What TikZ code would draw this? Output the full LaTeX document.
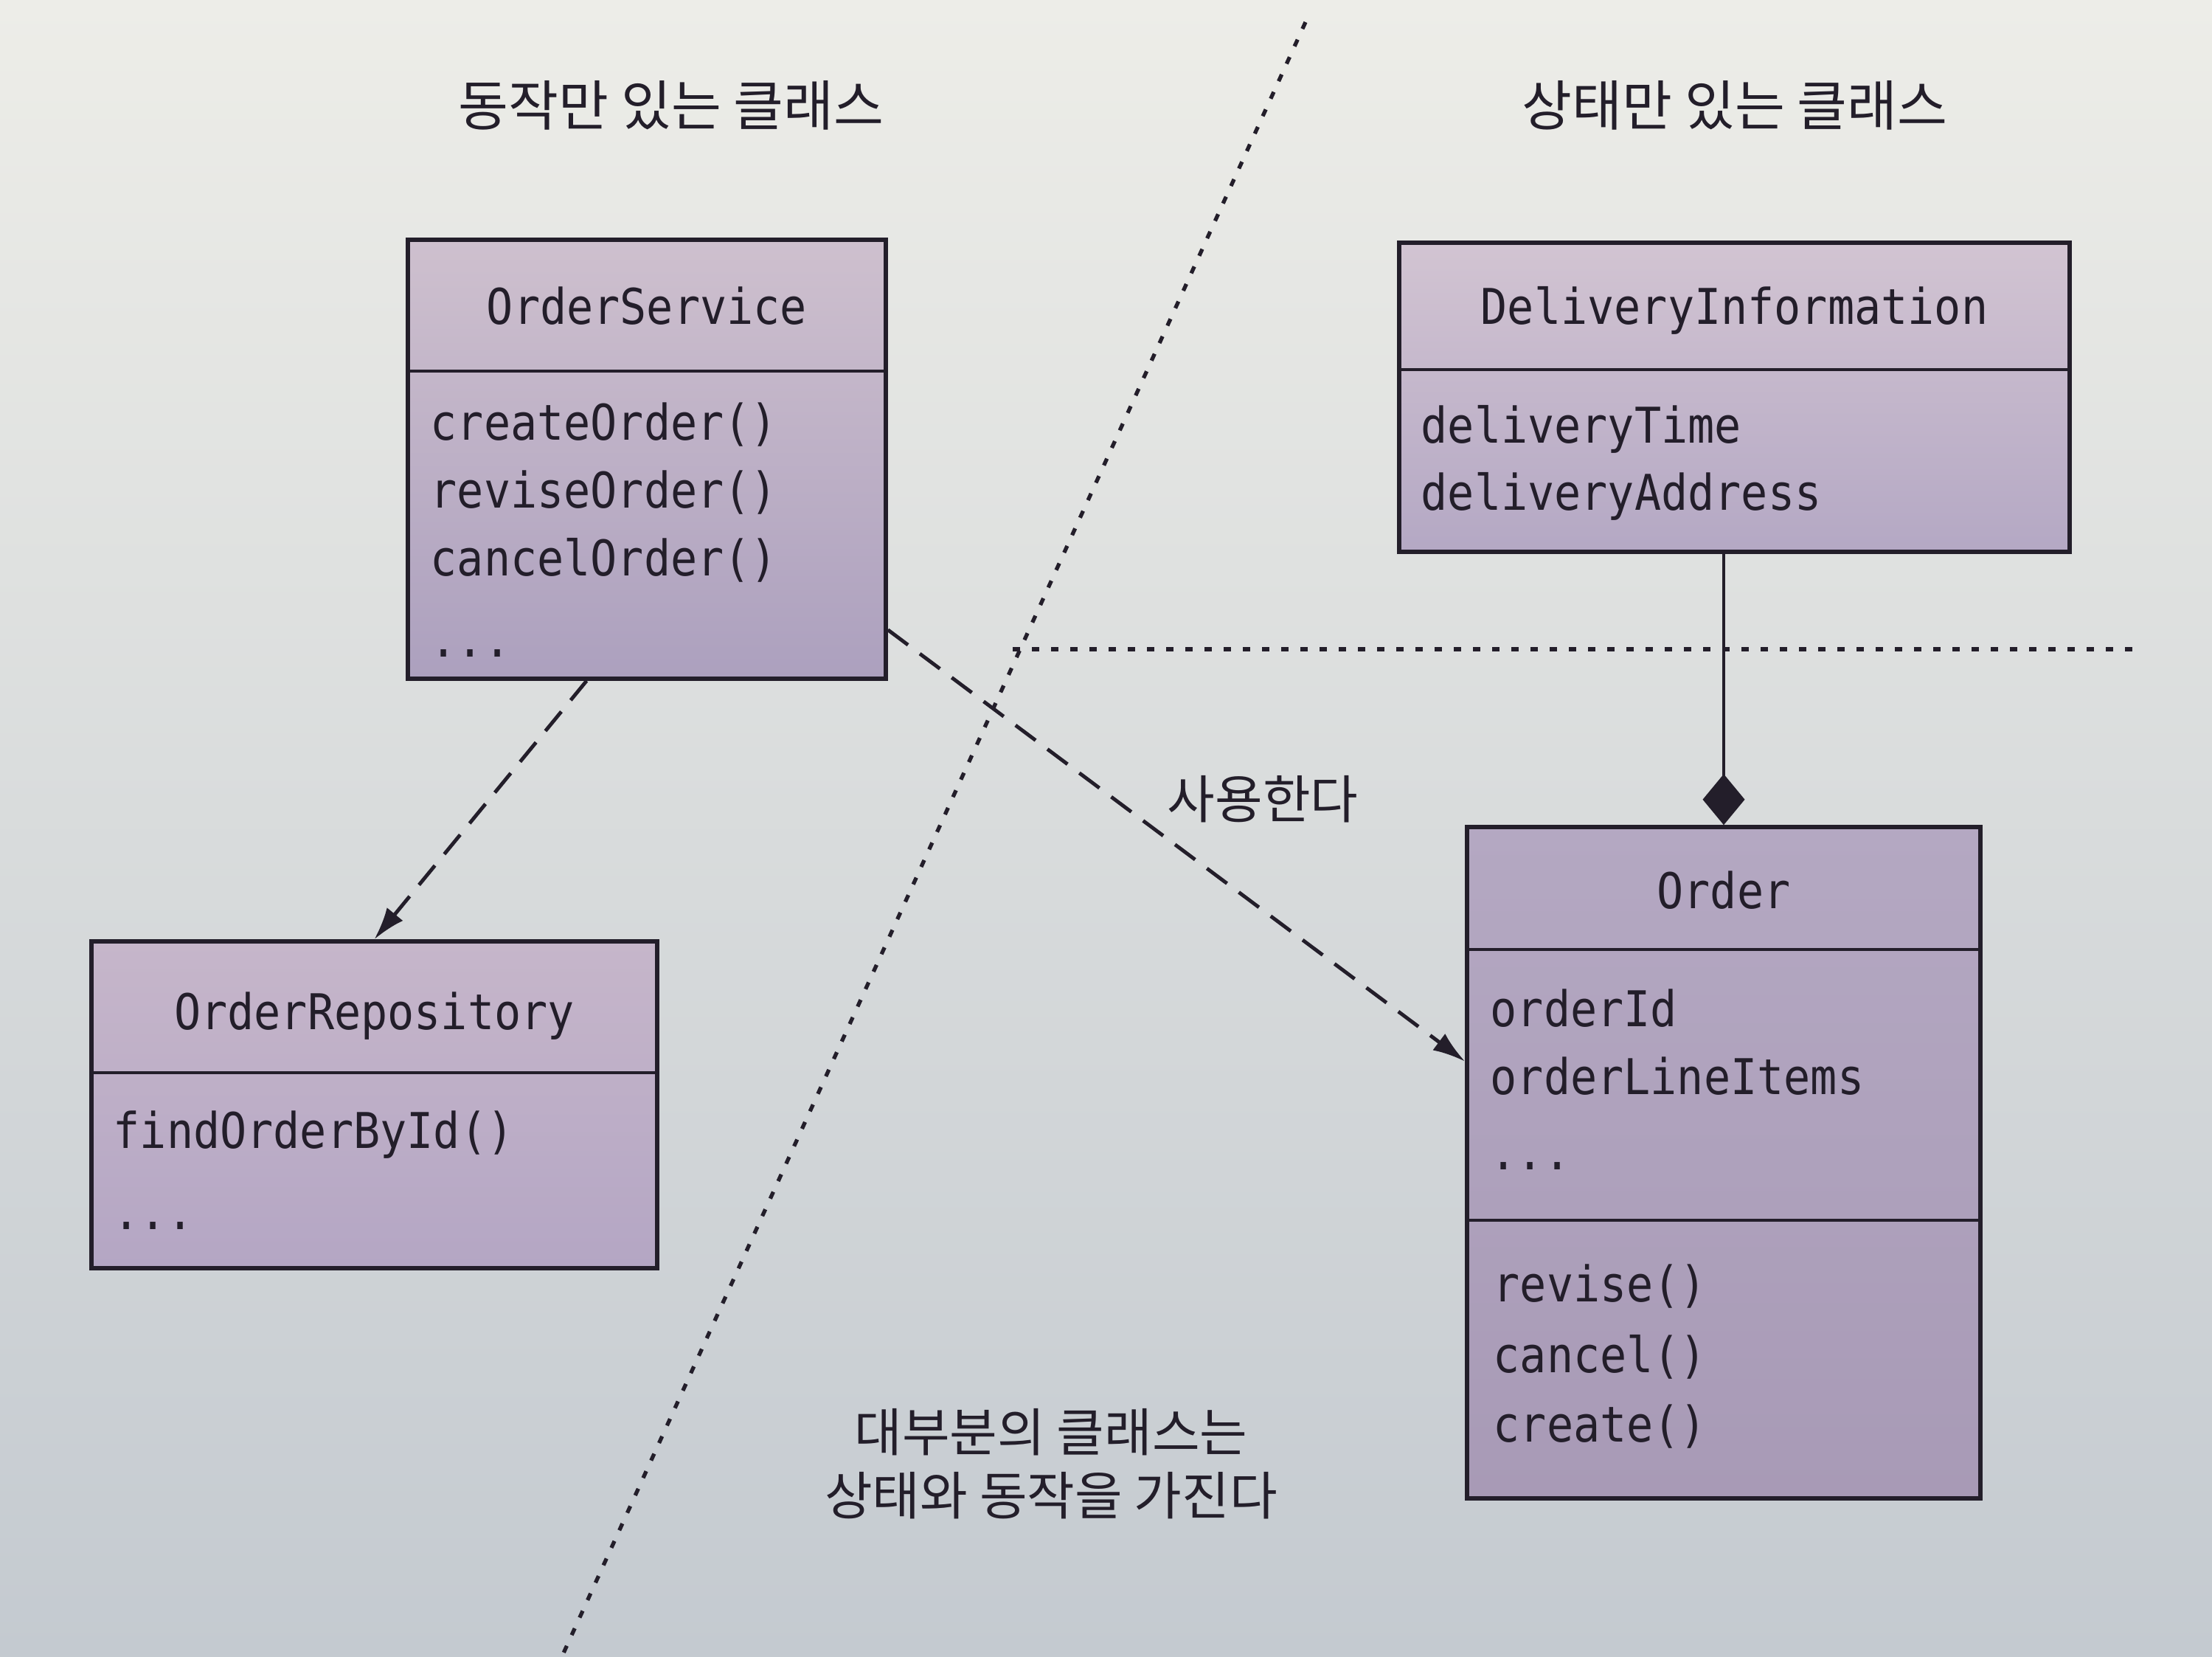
\documentclass[tikz,border=0pt]{standalone}
\usepackage{fontspec}
\usepackage{tikz}
\usetikzlibrary{arrows.meta,calc}

\newfontfamily\umlfont{DejaVu Sans Mono}[FakeStretch=0.9]
\newfontfamily\kofont{Noto Sans CJK KR}

\definecolor{ink}{RGB}{35,30,42}
\definecolor{papertop}{RGB}{237,237,232}
\definecolor{papermid}{RGB}{203,208,213}
\definecolor{paperbot}{RGB}{196,202,208}
\definecolor{svctop}{RGB}{206,192,206}
\definecolor{svcbot}{RGB}{172,160,190}
\definecolor{infotop}{RGB}{210,196,210}
\definecolor{infobot}{RGB}{180,168,196}
\definecolor{repotop}{RGB}{198,182,202}
\definecolor{repobot}{RGB}{180,166,196}
\definecolor{ordertop}{RGB}{180,168,194}
\definecolor{orderbot}{RGB}{168,154,182}

\tikzset{
  classbox/.style={draw=ink, line width=1.6pt, inner sep=0pt},
  divider/.style={draw=ink, line width=1.3pt},
  classname/.style={font=\umlfont\fontsize{19}{23}\selectfont, text=ink, anchor=base, inner sep=0pt},
  member/.style={font=\umlfont\fontsize{19}{23}\selectfont, text=ink, anchor=base west, inner sep=0pt},
  heading/.style={font=\kofont\fontsize{21}{25}\selectfont, text=ink},
  remark/.style={font=\kofont\fontsize{20}{24.5}\selectfont, text=ink, align=center},
  depends/.style={draw=ink, line width=1.4pt, dash pattern=on 3.4mm off 2mm, -{Latex[length=4.4mm,width=2.8mm]}},
  composite/.style={draw=ink, line width=1.4pt, -{Diamond[length=6.9mm,width=5.7mm]}},
  boundary/.style={draw=ink, line width=1.5pt, dash pattern=on 1mm off 1.6mm}
}

\begin{document}
\begin{tikzpicture}[x=1cm,y=-1cm]
    \useasboundingbox (0,0) rectangle (29.99,22.45);
    \fill[top color=papertop, middle color=papermid, bottom color=paperbot] (0,0) rectangle (29.99,22.45);

    % headings
    \node[heading] at (9.10,1.43) (behaviour) {동작만 있는 클래스};
    \node[heading] at (23.52,1.43) (state) {상태만 있는 클래스};

    % boundaries
    \coordinate (cuttop) at (17.70,0.30);
    \coordinate (cutbottom) at (7.62,22.45);
    \coordinate (rulestart) at (13.73,8.80);
    \coordinate (ruleend) at (28.98,8.80);
    \draw[boundary] (cuttop) -- (cutbottom);
    \draw[boundary] (rulestart) -- (ruleend);

    % OrderService
    \node[classbox, top color=svctop, bottom color=svcbot, minimum width=6.48cm, minimum height=5.95cm] at (8.77,6.225) (service) {};
    \draw[divider] (service.west |- 0,5.03) -- (service.east |- 0,5.03);
    \node[classname] at (8.77,4.39) (servicename) {OrderService};
    \node[member] at (5.83,5.96) (create) {createOrder()};
    \node[member] at (5.83,6.88) (revise) {reviseOrder()};
    \node[member] at (5.83,7.80) (cancel) {cancelOrder()};
    \node[member] at (5.83,8.90) (servicemore) {...};

    % DeliveryInformation
    \node[classbox, top color=infotop, bottom color=infobot, minimum width=9.09cm, minimum height=4.19cm] at (23.515,5.385) (info) {};
    \draw[divider] (info.west |- 0,5.01) -- (info.east |- 0,5.01);
    \node[classname] at (23.515,4.39) (infoname) {DeliveryInformation};
    \node[member] at (19.26,6.00) (time) {deliveryTime};
    \node[member] at (19.26,6.91) (address) {deliveryAddress};

    % OrderRepository
    \node[classbox, top color=repotop, bottom color=repobot, minimum width=7.67cm, minimum height=4.43cm] at (5.075,14.975) (repo) {};
    \draw[divider] (repo.west |- 0,14.54) -- (repo.east |- 0,14.54);
    \node[classname] at (5.075,13.95) (reponame) {OrderRepository};
    \node[member] at (1.53,15.56) (find) {findOrderById()};
    \node[member] at (1.53,16.66) (repomore) {...};

    % Order
    \node[classbox, top color=ordertop, bottom color=orderbot, minimum width=6.96cm, minimum height=9.10cm] at (23.37,15.76) (order) {};
    \draw[divider] (order.west |- 0,12.87) -- (order.east |- 0,12.87);
    \draw[divider] (order.west |- 0,16.54) -- (order.east |- 0,16.54);
    \node[classname] at (23.37,12.31) (ordername) {Order};
    \node[member] at (20.20,13.91) (id) {orderId};
    \node[member] at (20.20,14.83) (items) {orderLineItems};
    \node[member] at (20.20,15.85) (ordermore) {...};
    \node[member] at (20.24,17.64) (orevise) {revise()};
    \node[member] at (20.24,18.60) (ocancel) {cancel()};
    \node[member] at (20.24,19.54) (ocreate) {create()};

    % connectors
    \draw[depends] ($(service.south west)!0.375!(service.south east)$) to (repo.north);
    \draw[depends] ($(service.north east)!0.885!(service.south east)$) to ($(order.north west)!0.35!(order.south west)$);
    \node[remark] at (17.12,10.83) (uses) {사용한다};
    \draw[composite] (order.north |- info.south) to (order.north);

    % remark
    \node[remark] at (14.25,19.84) (most) {대부분의 클래스는\\상태와 동작을 가진다};
\end{tikzpicture}
\end{document}
